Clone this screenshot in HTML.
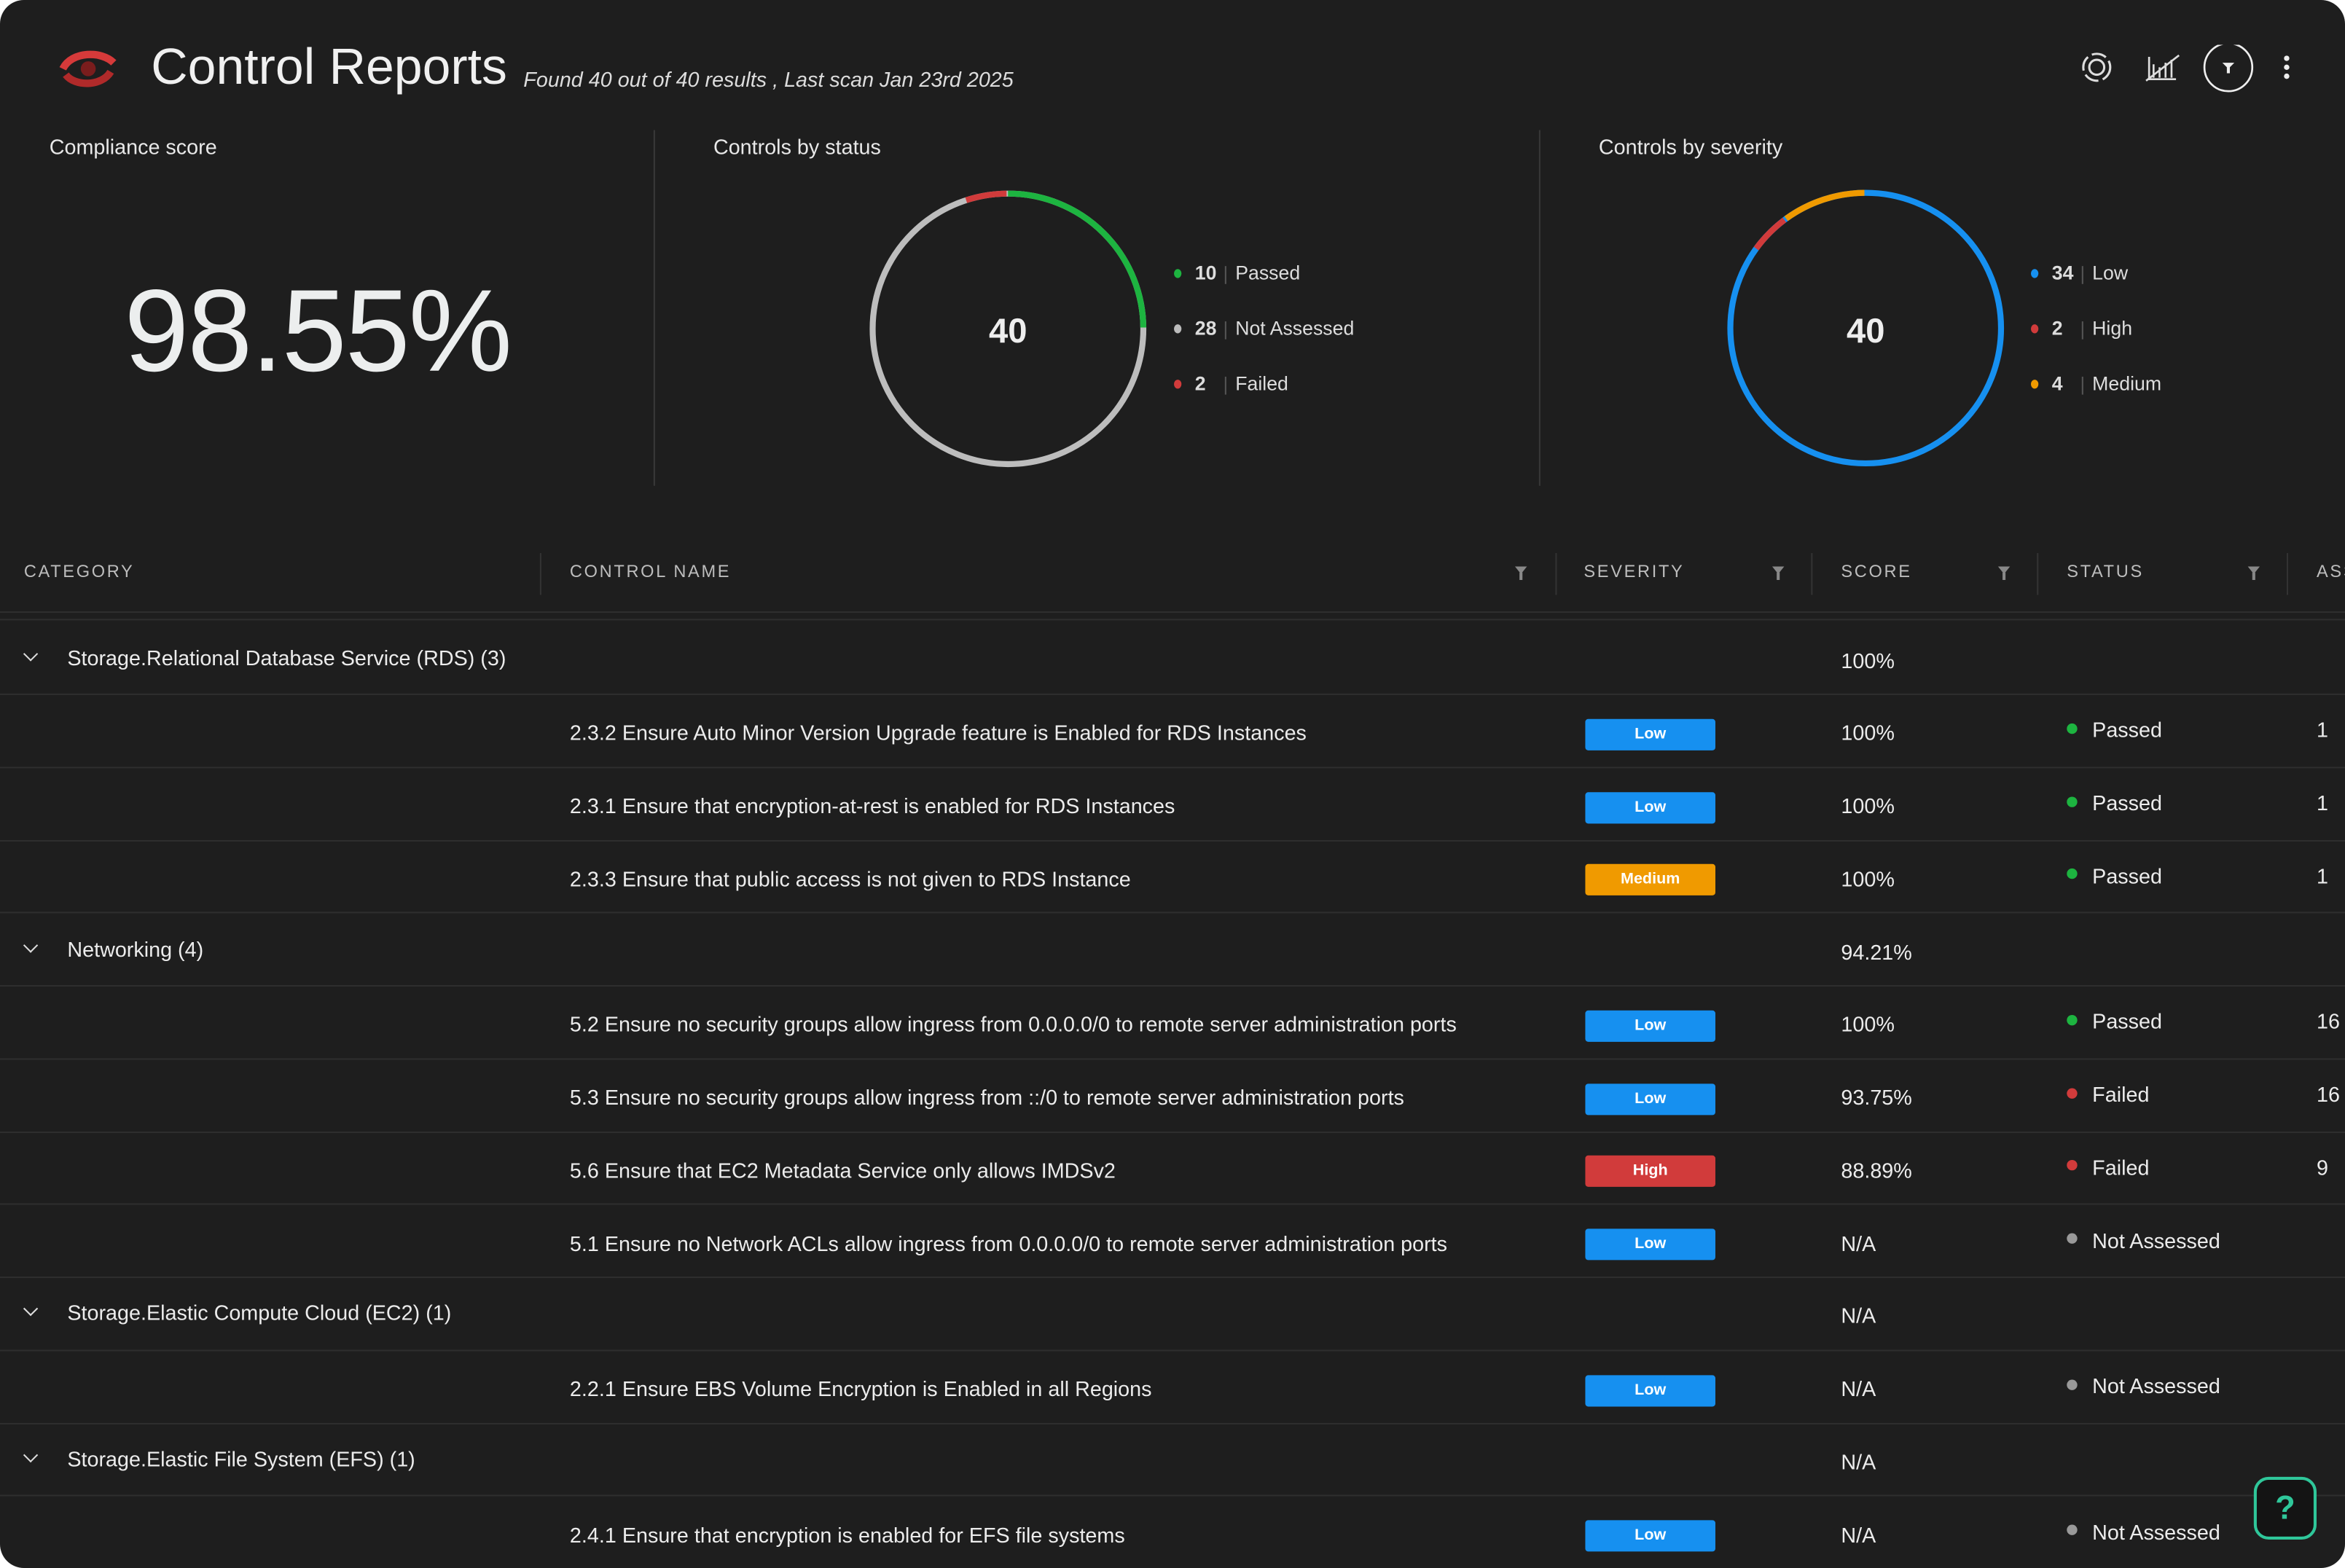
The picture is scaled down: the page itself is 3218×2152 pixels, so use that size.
<!DOCTYPE html>
<html><head><meta charset="utf-8"><style>
html,body{margin:0;padding:0;background:#fff;width:3218px;height:2152px;overflow:hidden}
#w{position:absolute;left:0;top:0;width:1568px;height:1049px;transform:scale(2.05230,2.05148);transform-origin:0 0;font-family:"Liberation Sans",sans-serif;color:#e8e8e8}
#card{position:absolute;left:0;top:0;width:1568px;height:1049px;background:#1e1e1e;border-radius:16px;overflow:hidden}
.a{position:absolute;white-space:nowrap}
.hl{position:absolute;left:0;width:1568px;height:1px;background:#2e2e2e}
.th{position:absolute;top:377px;font-size:11.5px;letter-spacing:1.3px;color:#bdbdbd}
.vs{position:absolute;top:370px;width:1px;height:28px;background:#333}
.fi{position:absolute;top:379px;width:0;height:0;border-left:4px solid transparent;border-right:4px solid transparent;border-top:5px solid #888}
.fi:after{content:"";position:absolute;left:-1px;top:-1px;width:2px;height:5px;background:#888}
.t{font-size:14px;color:#ececec}
.b{position:absolute;left:1060px;width:87px;height:21px;border-radius:2px;font-size:10.5px;font-weight:bold;color:#fff;text-align:center;line-height:21px}
.dot{position:absolute;width:7px;height:7px;border-radius:50%}
.lg{position:absolute;font-size:13px;color:#ddd}
.sp{position:absolute;width:1px;height:12px;background:#555}
.ch{position:absolute;left:17px;width:6px;height:6px;border-right:1.3px solid #ddd;border-bottom:1.3px solid #ddd;transform:rotate(45deg)}
</style></head><body><div id="w"><div id="card">
<svg class="a" style="left:38px;top:30px" width="42" height="32" viewBox="0 0 42 32"><path d="M4 16 C10 4,30 4,38 12" stroke="#d63a3a" stroke-width="5" fill="none"/><path d="M6 20 C12 28,30 28,36 18" stroke="#b02a2a" stroke-width="5" fill="none"/><circle cx="21" cy="16" r="5" fill="#7a1d1d"/></svg>
<div class="a" style="left:101px;top:26px;font-size:34px;color:#f0f0f0">Control Reports</div>
<div class="a" style="left:350px;top:45px;font-size:14px;font-style:italic;color:#ddd">Found 40 out of 40 results , Last scan Jan 23rd 2025</div>
<svg class="a" style="left:1385px;top:30px" width="160" height="32"><circle cx="17" cy="15" r="9" stroke="#ddd" stroke-width="1.5" fill="none" stroke-dasharray="10 3"/><circle cx="17" cy="15" r="5" stroke="#ddd" stroke-width="1.5" fill="none"/><path d="M52 8v15h18M55 22v-9M59 22v-7M63 22v-10M67 22v-12M50 24L72 7" stroke="#ddd" stroke-width="1.3" fill="none"/><circle cx="105" cy="15" r="16" stroke="#eee" stroke-width="1.3" fill="none"/><path d="M101 12h8l-4 4z" fill="#eee"/><rect x="104" y="14" width="2" height="5" fill="#eee"/><circle cx="144" cy="9" r="1.8" fill="#eee"/><circle cx="144" cy="15" r="1.8" fill="#eee"/><circle cx="144" cy="21" r="1.8" fill="#eee"/></svg>
<div class="a" style="left:33px;top:90px;font-size:14px">Compliance score</div>
<div class="a" style="left:83px;top:176px;font-size:78px;color:#eceeee;letter-spacing:-1px">98.55%</div>
<div class="a" style="left:437px;top:87px;width:1px;height:238px;background:#383838"></div>
<div class="a" style="left:1029px;top:87px;width:1px;height:238px;background:#383838"></div>
<div class="a" style="left:477px;top:90px;font-size:14px">Controls by status</div>
<div class="a" style="left:1069px;top:90px;font-size:14px">Controls by severity</div>
<svg class="a" style="left:0;top:0" width="1568" height="340">
<g fill="none" stroke-width="4">
<circle cx="674" cy="220" r="90.5" stroke="#bdbdbd"/>
<circle cx="674" cy="220" r="90.5" stroke="#1db440" stroke-dasharray="141.2 1000" transform="rotate(-90 674 220)"/>
<circle cx="674" cy="220" r="90.5" stroke="#d13b3b" stroke-dasharray="27.5 1000" transform="rotate(-108 674 220)"/>
<circle cx="1247.5" cy="219.5" r="90.5" stroke="#1690f0"/>
<circle cx="1247.5" cy="219.5" r="90.5" stroke="#f09a00" stroke-dasharray="56 1000" transform="rotate(-126 1247.5 219.5)"/>
<circle cx="1247.5" cy="219.5" r="90.5" stroke="#d13b3b" stroke-dasharray="27 1000" transform="rotate(-144 1247.5 219.5)"/>
</g>
<text x="674" y="229" font-size="23" font-weight="bold" fill="#eee" text-anchor="middle" font-family="Liberation Sans">40</text>
<text x="1247.5" y="229" font-size="23" font-weight="bold" fill="#eee" text-anchor="middle" font-family="Liberation Sans">40</text>
</svg>
<div class="dot" style="left:785px;top:180px;width:5px;height:6px;background:#1db440"></div>
<div class="dot" style="left:785px;top:217px;width:5px;height:6px;background:#bbb"></div>
<div class="dot" style="left:785px;top:254px;width:5px;height:6px;background:#d13b3b"></div>
<div class="lg" style="left:799px;top:175px"><b>10</b></div><div class="sp" style="left:819px;top:178px"></div><div class="lg" style="left:826px;top:175px">Passed</div>
<div class="lg" style="left:799px;top:212px"><b>28</b></div><div class="sp" style="left:819px;top:215px"></div><div class="lg" style="left:826px;top:212px">Not Assessed</div>
<div class="lg" style="left:799px;top:249px"><b>2</b></div><div class="sp" style="left:819px;top:252px"></div><div class="lg" style="left:826px;top:249px">Failed</div>
<div class="dot" style="left:1358px;top:180px;width:5px;height:6px;background:#1690f0"></div>
<div class="dot" style="left:1358px;top:217px;width:5px;height:6px;background:#d13b3b"></div>
<div class="dot" style="left:1358px;top:254px;width:5px;height:6px;background:#f09a00"></div>
<div class="lg" style="left:1372px;top:175px"><b>34</b></div><div class="sp" style="left:1392px;top:178px"></div><div class="lg" style="left:1399px;top:175px">Low</div>
<div class="lg" style="left:1372px;top:212px"><b>2</b></div><div class="sp" style="left:1392px;top:215px"></div><div class="lg" style="left:1399px;top:212px">High</div>
<div class="lg" style="left:1372px;top:249px"><b>4</b></div><div class="sp" style="left:1392px;top:252px"></div><div class="lg" style="left:1399px;top:249px">Medium</div>

<div class="th" style="left:16px">CATEGORY</div>
<div class="th" style="left:381px">CONTROL NAME</div>
<div class="th" style="left:1059px">SEVERITY</div>
<div class="th" style="left:1231px">SCORE</div>
<div class="th" style="left:1382px">STATUS</div>
<div class="th" style="left:1549px">ASSETS</div>
<div class="vs" style="left:361px"></div><div class="vs" style="left:1040px"></div><div class="vs" style="left:1211px"></div><div class="vs" style="left:1362px"></div><div class="vs" style="left:1529px"></div>
<div class="fi" style="left:1013px"></div><div class="fi" style="left:1185px"></div><div class="fi" style="left:1336px"></div><div class="fi" style="left:1503px"></div>
<div class="hl" style="top:409px"></div><div class="hl" style="top:414px"></div>

<div class="hl" style="top:464px"></div><div class="hl" style="top:513px"></div><div class="hl" style="top:562px"></div><div class="hl" style="top:610px"></div><div class="hl" style="top:659px"></div><div class="hl" style="top:708px"></div><div class="hl" style="top:757px"></div><div class="hl" style="top:805px"></div><div class="hl" style="top:854px"></div><div class="hl" style="top:903px"></div><div class="hl" style="top:952px"></div><div class="hl" style="top:1000px"></div>

<div class="ch" style="top:434px"></div><div class="a t" style="left:45px;top:432px">Storage.Relational Database Service (RDS) (3)</div><div class="a t" style="left:1231px;top:434px">100%</div>
<div class="a t" style="left:381px;top:482px">2.3.2 Ensure Auto Minor Version Upgrade feature is Enabled for RDS Instances</div><div class="b" style="top:481px;background:#1690f0">Low</div><div class="a t" style="left:1231px;top:482px">100%</div><div class="dot" style="left:1382px;top:484px;background:#1db440"></div><div class="a t" style="left:1399px;top:480px">Passed</div><div class="a t" style="left:1549px;top:480px">1</div>
<div class="a t" style="left:381px;top:531px">2.3.1 Ensure that encryption-at-rest is enabled for RDS Instances</div><div class="b" style="top:530px;background:#1690f0">Low</div><div class="a t" style="left:1231px;top:531px">100%</div><div class="dot" style="left:1382px;top:533px;background:#1db440"></div><div class="a t" style="left:1399px;top:529px">Passed</div><div class="a t" style="left:1549px;top:529px">1</div>
<div class="a t" style="left:381px;top:580px">2.3.3 Ensure that public access is not given to RDS Instance</div><div class="b" style="top:578px;background:#f09a00">Medium</div><div class="a t" style="left:1231px;top:580px">100%</div><div class="dot" style="left:1382px;top:581px;background:#1db440"></div><div class="a t" style="left:1399px;top:578px">Passed</div><div class="a t" style="left:1549px;top:578px">1</div>
<div class="ch" style="top:629px"></div><div class="a t" style="left:45px;top:627px">Networking (4)</div><div class="a t" style="left:1231px;top:629px">94.21%</div>
<div class="a t" style="left:381px;top:677px">5.2 Ensure no security groups allow ingress from 0.0.0.0/0 to remote server administration ports</div><div class="b" style="top:676px;background:#1690f0">Low</div><div class="a t" style="left:1231px;top:677px">100%</div><div class="dot" style="left:1382px;top:679px;background:#1db440"></div><div class="a t" style="left:1399px;top:675px">Passed</div><div class="a t" style="left:1549px;top:675px">16</div>
<div class="a t" style="left:381px;top:726px">5.3 Ensure no security groups allow ingress from ::/0 to remote server administration ports</div><div class="b" style="top:725px;background:#1690f0">Low</div><div class="a t" style="left:1231px;top:726px">93.75%</div><div class="dot" style="left:1382px;top:728px;background:#d13b3b"></div><div class="a t" style="left:1399px;top:724px">Failed</div><div class="a t" style="left:1549px;top:724px">16</div>
<div class="a t" style="left:381px;top:775px">5.6 Ensure that EC2 Metadata Service only allows IMDSv2</div><div class="b" style="top:773px;background:#d13b3b">High</div><div class="a t" style="left:1231px;top:775px">88.89%</div><div class="dot" style="left:1382px;top:776px;background:#d13b3b"></div><div class="a t" style="left:1399px;top:773px">Failed</div><div class="a t" style="left:1549px;top:773px">9</div>
<div class="a t" style="left:381px;top:824px">5.1 Ensure no Network ACLs allow ingress from 0.0.0.0/0 to remote server administration ports</div><div class="b" style="top:822px;background:#1690f0">Low</div><div class="a t" style="left:1231px;top:824px">N/A</div><div class="dot" style="left:1382px;top:825px;background:#999"></div><div class="a t" style="left:1399px;top:822px">Not Assessed</div>
<div class="ch" style="top:872px"></div><div class="a t" style="left:45px;top:870px">Storage.Elastic Compute Cloud (EC2) (1)</div><div class="a t" style="left:1231px;top:872px">N/A</div>
<div class="a t" style="left:381px;top:921px">2.2.1 Ensure EBS Volume Encryption is Enabled in all Regions</div><div class="b" style="top:920px;background:#1690f0">Low</div><div class="a t" style="left:1231px;top:921px">N/A</div><div class="dot" style="left:1382px;top:923px;background:#999"></div><div class="a t" style="left:1399px;top:919px">Not Assessed</div>
<div class="ch" style="top:970px"></div><div class="a t" style="left:45px;top:968px">Storage.Elastic File System (EFS) (1)</div><div class="a t" style="left:1231px;top:970px">N/A</div>
<div class="a t" style="left:381px;top:1019px">2.4.1 Ensure that encryption is enabled for EFS file systems</div><div class="b" style="top:1017px;background:#1690f0">Low</div><div class="a t" style="left:1231px;top:1019px">N/A</div><div class="dot" style="left:1382px;top:1020px;background:#999"></div><div class="a t" style="left:1399px;top:1017px">Not Assessed</div>
<div class="a" style="left:1507px;top:988px;width:38px;height:38px;border:2px solid #2fc79a;border-radius:10px;background:#141414;color:#2fc79a;font-size:22px;font-weight:bold;text-align:center;line-height:38px">?</div>
</div></div></body></html>
